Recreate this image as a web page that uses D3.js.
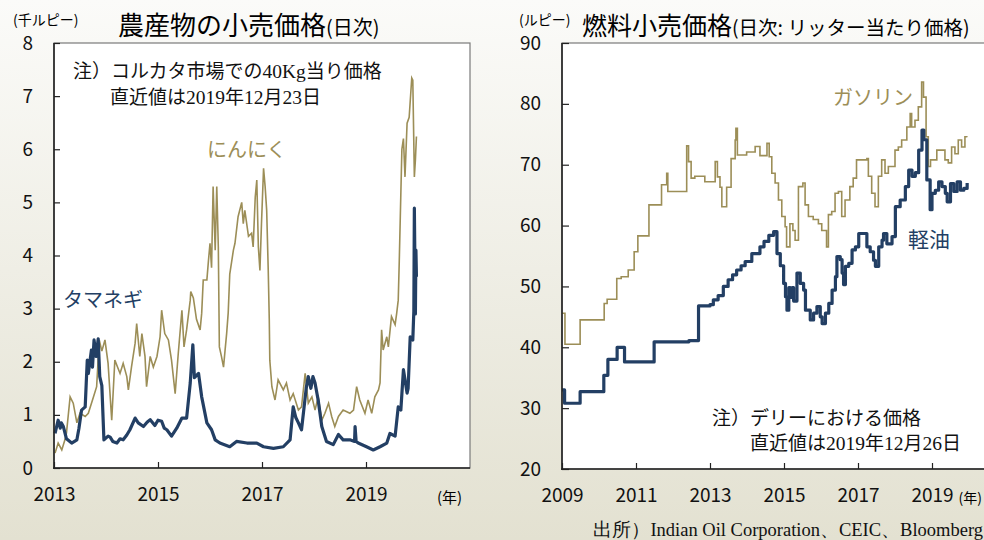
<html>
<head>
<meta charset="utf-8">
<title>インド 小売価格</title>
<script src="https://d3js.org/d3.v7.min.js"></script>
<style>
body { margin: 0; font-family: "Noto Sans CJK JP", "Noto Sans", sans-serif; }
.axis text { font-family: "Noto Sans CJK JP", sans-serif; font-size: 19px; fill: #111; }
.axis .domain { display: none; }
.axis line { stroke: #222; stroke-width: 1.2; }
.ser { font-family: "Liberation Serif", serif; font-size: 19.5px; }
</style>
</head>
<body>
<script>
// 農産物 (千ルピー / 40Kg), [year, value]
var onion = [[2013.02,0.65],[2013.08,0.9],[2013.12,0.75],[2013.14,0.85],[2013.18,0.78],[2013.24,0.55],[2013.34,0.47],[2013.44,0.53],[2013.48,0.75],[2013.53,1.09],[2013.6,1.15],[2013.62,1.6],[2013.64,2.03],[2013.66,1.78],[2013.69,2.0],[2013.72,2.22],[2013.74,1.9],[2013.77,2.41],[2013.81,2.1],[2013.85,2.43],[2013.88,1.72],[2013.92,1.55],[2013.96,0.53],[2014.04,0.6],[2014.08,0.58],[2014.13,0.5],[2014.21,0.47],[2014.27,0.55],[2014.33,0.53],[2014.4,0.62],[2014.46,0.72],[2014.56,0.94],[2014.62,0.85],[2014.72,0.78],[2014.79,0.86],[2014.85,0.91],[2014.94,0.8],[2015.0,0.9],[2015.07,0.88],[2015.12,0.75],[2015.17,0.72],[2015.26,0.6],[2015.36,0.75],[2015.46,0.94],[2015.55,0.94],[2015.62,1.6],[2015.67,2.32],[2015.7,1.7],[2015.78,1.78],[2015.84,1.34],[2015.94,0.85],[2016.03,0.72],[2016.1,0.53],[2016.19,0.47],[2016.38,0.4],[2016.51,0.5],[2016.71,0.47],[2016.9,0.47],[2017.03,0.4],[2017.22,0.37],[2017.41,0.4],[2017.54,0.53],[2017.6,1.15],[2017.65,0.95],[2017.7,0.85],[2017.76,0.72],[2017.81,1.15],[2017.85,1.5],[2017.89,1.72],[2017.94,1.5],[2017.98,1.72],[2018.02,1.6],[2018.08,1.28],[2018.15,0.78],[2018.24,0.5],[2018.37,0.44],[2018.47,0.63],[2018.56,0.53],[2018.69,0.53],[2018.78,0.5],[2018.79,0.78],[2018.81,0.5],[2018.85,0.47],[2019.01,0.4],[2019.14,0.34],[2019.27,0.4],[2019.4,0.47],[2019.46,0.65],[2019.56,0.6],[2019.62,1.15],[2019.67,1.09],[2019.72,1.85],[2019.79,1.41],[2019.81,1.5],[2019.85,2.47],[2019.9,2.41],[2019.92,2.95],[2019.93,4.89],[2019.95,2.9],[2019.96,4.1],[2019.97,3.6]];
var garlic = [[2013.02,0.28],[2013.08,0.47],[2013.15,0.34],[2013.21,0.53],[2013.24,0.66],[2013.31,1.34],[2013.37,1.22],[2013.44,0.85],[2013.5,1.03],[2013.6,0.97],[2013.66,1.03],[2013.76,1.34],[2013.82,1.53],[2013.87,2.41],[2013.92,2.2],[2013.98,2.41],[2014.04,1.97],[2014.11,0.9],[2014.17,2.03],[2014.27,1.78],[2014.33,1.97],[2014.4,1.72],[2014.43,1.47],[2014.49,1.9],[2014.56,2.35],[2014.59,2.72],[2014.65,2.1],[2014.69,2.53],[2014.75,2.1],[2014.78,1.53],[2014.85,2.1],[2014.91,1.9],[2014.98,2.1],[2015.04,2.47],[2015.07,2.97],[2015.13,2.53],[2015.2,2.41],[2015.26,2.03],[2015.33,1.4],[2015.39,2.16],[2015.46,2.97],[2015.5,2.28],[2015.55,2.6],[2015.62,3.16],[2015.63,3.32],[2015.68,3.2],[2015.74,2.8],[2015.81,2.6],[2015.84,2.91],[2015.87,3.54],[2015.94,3.54],[2015.97,3.9],[2016.0,4.23],[2016.03,3.77],[2016.06,5.3],[2016.1,4.1],[2016.13,5.3],[2016.16,4.16],[2016.18,2.28],[2016.22,2.1],[2016.26,1.9],[2016.29,2.22],[2016.32,2.53],[2016.35,2.92],[2016.38,3.65],[2016.45,4.1],[2016.48,4.23],[2016.54,4.73],[2016.61,5.0],[2016.64,4.6],[2016.67,4.85],[2016.74,4.36],[2016.8,4.42],[2016.83,4.16],[2016.87,5.1],[2016.9,5.42],[2016.93,4.16],[2016.96,3.72],[2016.99,4.6],[2017.03,5.64],[2017.06,5.3],[2017.09,4.85],[2017.12,3.72],[2017.14,2.79],[2017.15,2.03],[2017.19,1.53],[2017.25,1.28],[2017.31,1.66],[2017.41,1.47],[2017.47,1.6],[2017.54,1.28],[2017.6,1.4],[2017.7,1.09],[2017.76,1.15],[2017.83,1.78],[2017.89,1.22],[2017.96,1.34],[2018.02,1.09],[2018.08,1.34],[2018.15,0.9],[2018.21,1.03],[2018.28,1.22],[2018.34,0.97],[2018.4,0.78],[2018.47,0.97],[2018.56,1.09],[2018.69,1.03],[2018.76,1.09],[2018.82,1.53],[2018.88,1.28],[2018.98,1.03],[2019.04,1.28],[2019.11,1.03],[2019.17,1.34],[2019.24,1.47],[2019.27,1.6],[2019.3,2.6],[2019.33,2.22],[2019.4,2.47],[2019.43,2.28],[2019.49,2.85],[2019.56,2.7],[2019.59,2.91],[2019.62,3.16],[2019.64,3.9],[2019.69,6.0],[2019.72,6.2],[2019.75,5.48],[2019.79,6.49],[2019.83,6.6],[2019.88,7.34],[2019.9,7.3],[2019.93,5.48],[2019.95,5.8],[2019.97,6.24]];

// 燃料 (ルピー / リッター), [year, value] ステップ
var petrol = [[2009.0,45.6],[2009.08,40.5],[2009.49,44.5],[2010.14,47.2],[2010.22,47.9],[2010.48,51.3],[2010.6,51.6],[2010.79,52.7],[2010.95,55.7],[2011.05,58.3],[2011.35,63.4],[2011.69,66.7],[2011.83,68.6],[2011.86,65.6],[2012.37,73.1],[2012.42,70.5],[2012.49,67.8],[2012.59,68.1],[2012.86,67.2],[2013.14,70.5],[2013.2,68.0],[2013.27,66.3],[2013.32,63.1],[2013.45,66.3],[2013.57,71.0],[2013.68,74.05],[2013.7,76.0],[2013.74,71.6],[2013.99,72.1],[2014.22,73.0],[2014.35,71.5],[2014.54,73.5],[2014.6,71.3],[2014.67,68.6],[2014.76,67.0],[2014.85,64.2],[2014.94,61.5],[2015.03,59.8],[2015.07,56.5],[2015.16,60.3],[2015.24,59.2],[2015.3,57.6],[2015.39,66.4],[2015.51,67.0],[2015.57,63.4],[2015.66,61.5],[2015.79,61.0],[2015.93,60.3],[2016.02,59.2],[2016.15,56.5],[2016.2,61.8],[2016.29,62.3],[2016.38,65.3],[2016.47,65.6],[2016.56,61.5],[2016.65,64.2],[2016.78,66.4],[2016.87,67.8],[2016.96,70.8],[2017.24,71.0],[2017.28,68.1],[2017.37,65.3],[2017.46,63.1],[2017.55,68.1],[2017.64,70.8],[2017.73,68.6],[2017.82,69.7],[2018.0,72.4],[2018.09,72.9],[2018.18,74.05],[2018.32,76.2],[2018.41,78.4],[2018.45,76.2],[2018.54,77.3],[2018.63,79.5],[2018.72,83.6],[2018.77,81.1],[2018.84,74.6],[2018.9,69.7],[2018.96,70.8],[2019.13,72.4],[2019.22,72.4],[2019.35,70.8],[2019.44,70.3],[2019.53,72.9],[2019.62,71.8],[2019.71,74.05],[2019.8,72.9],[2019.89,74.6],[2019.94,74.5]];
var diesel = [[2009.0,33.0],[2009.07,30.8],[2009.49,32.7],[2010.13,35.4],[2010.24,38.0],[2010.49,40.0],[2010.69,37.6],[2011.49,40.9],[2012.43,41.1],[2012.69,46.8],[2013.0,47.0],[2013.09,47.8],[2013.22,48.5],[2013.36,50.0],[2013.49,51.1],[2013.61,51.9],[2013.72,52.7],[2013.84,53.4],[2013.95,54.1],[2014.13,55.4],[2014.35,56.5],[2014.46,57.4],[2014.59,58.4],[2014.72,59.0],[2014.81,55.4],[2014.9,53.4],[2014.99,50.5],[2015.04,48.3],[2015.08,46.1],[2015.13,49.8],[2015.17,48.2],[2015.22,49.8],[2015.26,47.6],[2015.35,52.2],[2015.44,50.5],[2015.53,49.4],[2015.58,46.1],[2015.71,44.5],[2015.8,45.6],[2015.89,46.7],[2015.98,45.0],[2016.03,43.9],[2016.12,45.6],[2016.21,47.2],[2016.3,49.4],[2016.39,51.6],[2016.43,54.9],[2016.52,54.4],[2016.57,52.2],[2016.61,50.3],[2016.66,53.3],[2016.75,53.8],[2016.84,56.0],[2016.93,56.5],[2017.02,58.7],[2017.24,56.5],[2017.33,55.7],[2017.42,54.3],[2017.47,53.3],[2017.56,56.5],[2017.65,57.6],[2017.69,58.7],[2017.78,57.0],[2017.92,58.2],[2018.01,63.1],[2018.14,64.2],[2018.28,66.4],[2018.37,69.1],[2018.46,68.1],[2018.55,68.7],[2018.64,72.4],[2018.73,75.7],[2018.78,74.1],[2018.86,67.5],[2018.95,62.6],[2019.0,65.3],[2019.09,65.8],[2019.18,67.2],[2019.27,66.4],[2019.36,65.3],[2019.41,63.9],[2019.5,66.9],[2019.59,65.6],[2019.68,67.2],[2019.77,65.8],[2019.86,66.1],[2019.95,67.0]];

var leftYTicks = [0,1,2,3,4,5,6,7,8];
var leftXTicks = [2013,2015,2017,2019];
var rightYTicks = [20,30,40,50,60,70,80,90];
var rightXTicks = [2009,2011,2013,2015,2017,2019];

var navy = "#233f64";
var olive = "#9c8e57";

var width = 984, height = 540;
var svg = d3.select("body").append("svg")
  .attr("width", width)
  .attr("height", height);

// 背景のグラデーション
var grad = svg.append("defs").append("linearGradient")
  .attr("id", "bg").attr("x1", 0).attr("y1", 0).attr("x2", 0).attr("y2", 1);
grad.append("stop").attr("offset", "0%").attr("stop-color", "#fbfbf9");
grad.append("stop").attr("offset", "100%").attr("stop-color", "#e3e1d1");
svg.append("rect").attr("width", width).attr("height", height).attr("fill", "url(#bg)");

// 和文と数字(明朝系)を混ぜたテキスト
function mixed(g, x, y, parts) {
  var t = g.append("text").attr("x", x).attr("y", y);
  parts.forEach(function(p, i) {
    var s = t.append("tspan").text(p);
    if (i % 2 === 1) s.attr("class", "ser");
  });
  return t;
}

// ---- 左: 農産物 ----
var x1 = d3.scaleLinear().domain([2013, 2021]).range([54, 470]);
var y1 = d3.scaleLinear().domain([0, 8]).range([468, 43]);

svg.append("rect").attr("x", 54).attr("y", 43).attr("width", 416).attr("height", 425)
  .attr("fill", "#fff").attr("stroke", "#7a7a7a").attr("stroke-width", 1.2);

var line1 = d3.line().x(function(d){ return x1(d[0]); }).y(function(d){ return y1(d[1]); });

svg.append("path").datum(garlic).attr("d", line1)
  .attr("fill", "none").attr("stroke", olive).attr("stroke-width", 1.6);
svg.append("path").datum(onion).attr("d", line1)
  .attr("fill", "none").attr("stroke", navy).attr("stroke-width", 3.2).attr("stroke-linejoin", "round");

svg.append("g").attr("class", "axis").attr("transform", "translate(54,0)")
  .call(d3.axisLeft(y1).tickValues(leftYTicks).tickSizeInner(-6).tickSizeOuter(0).tickPadding(21));
svg.append("g").attr("class", "axis").attr("transform", "translate(0,468)")
  .call(d3.axisBottom(x1).tickValues(leftXTicks).tickFormat(d3.format("d")).tickSizeInner(-6).tickSizeOuter(0).tickPadding(20));
svg.append("line").attr("x1", 54).attr("x2", 54).attr("y1", 43).attr("y2", 469).attr("stroke", "#222").attr("stroke-width", 1.6);
svg.append("line").attr("x1", 53).attr("x2", 470).attr("y1", 468).attr("y2", 468).attr("stroke", "#222").attr("stroke-width", 1.6);

svg.append("text").attr("x", 13).attr("y", 25).attr("font-size", 14).text("(千ルピー)");
svg.append("text").attr("x", 118).attr("y", 35).attr("font-size", 26)
  .text("農産物の小売価格").append("tspan").attr("font-size", 20).text("(日次)");
svg.append("text").attr("x", 437).attr("y", 503).attr("font-size", 15).text("(年)");

var note1 = svg.append("g").attr("font-size", 19).attr("fill", "#111");
mixed(note1, 73, 78, ["注）コルカタ市場での", "40Kg", "当り価格"]);
mixed(note1, 110, 104, ["直近値は", "2019", "年", "12", "月", "23", "日"]);

svg.append("text").attr("x", 63).attr("y", 307).attr("font-size", 20).attr("fill", navy).text("タマネギ");
svg.append("text").attr("x", 207).attr("y", 157).attr("font-size", 20).attr("fill", olive).text("にんにく");

// ---- 右: 燃料 ----
var x2 = d3.scaleLinear().domain([2009, 2021]).range([562, 1006]);
var y2 = d3.scaleLinear().domain([20, 90]).range([469, 43]);

svg.append("rect").attr("x", 562).attr("y", 43).attr("width", 444).attr("height", 426)
  .attr("fill", "#fff").attr("stroke", "#7a7a7a").attr("stroke-width", 1.2);

var line2 = d3.line().curve(d3.curveStepAfter)
  .x(function(d){ return x2(d[0]); }).y(function(d){ return y2(d[1]); });

svg.append("path").datum(petrol).attr("d", line2)
  .attr("fill", "none").attr("stroke", olive).attr("stroke-width", 1.6);
svg.append("path").datum(diesel).attr("d", line2)
  .attr("fill", "none").attr("stroke", navy).attr("stroke-width", 3.2).attr("stroke-linejoin", "round");

svg.append("g").attr("class", "axis").attr("transform", "translate(562,0)")
  .call(d3.axisLeft(y2).tickValues(rightYTicks).tickSizeInner(-7).tickSizeOuter(0).tickPadding(21));
svg.append("g").attr("class", "axis").attr("transform", "translate(0,469)")
  .call(d3.axisBottom(x2).tickValues(rightXTicks).tickFormat(d3.format("d")).tickSizeInner(-6).tickSizeOuter(0).tickPadding(20));
svg.append("line").attr("x1", 562).attr("x2", 562).attr("y1", 43).attr("y2", 470).attr("stroke", "#222").attr("stroke-width", 1.6);
svg.append("line").attr("x1", 561).attr("x2", 1006).attr("y1", 469).attr("y2", 469).attr("stroke", "#222").attr("stroke-width", 1.6);

svg.append("text").attr("x", 519).attr("y", 25).attr("font-size", 14).text("(ルピー)");
svg.append("text").attr("x", 582).attr("y", 35).attr("font-size", 25)
  .text("燃料小売価格").append("tspan").attr("font-size", 19.5).text("(日次: リッター当たり価格)");
svg.append("text").attr("x", 982).attr("y", 503).attr("text-anchor", "end").attr("font-size", 14).text("(年)");

var note2 = svg.append("g").attr("font-size", 19).attr("fill", "#111");
note2.append("text").attr("x", 712).attr("y", 425).text("注）デリーにおける価格");
mixed(note2, 750, 450, ["直近値は", "2019", "年", "12", "月", "26", "日"]);

svg.append("text").attr("x", 833).attr("y", 105).attr("font-size", 20).attr("fill", olive).text("ガソリン");
svg.append("text").attr("x", 908).attr("y", 247).attr("font-size", 21).attr("fill", navy).text("軽油");

svg.append("text").attr("x", 983).attr("y", 536).attr("text-anchor", "end")
  .attr("font-size", 18.5).attr("font-family", "Liberation Serif").attr("fill", "#111")
  .text("出所）Indian Oil Corporation、CEIC、Bloomberg");
</script>
</body>
</html>
